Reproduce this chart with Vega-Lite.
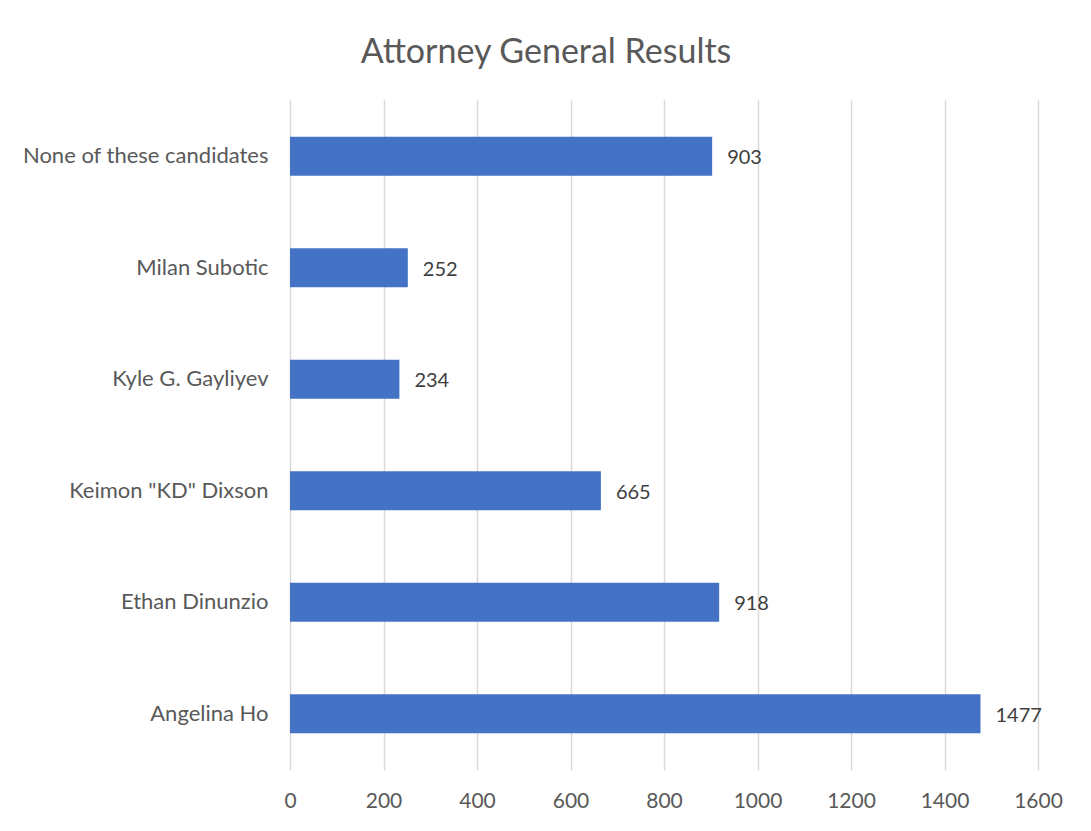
{
  "$schema": "https://vega.github.io/schema/vega-lite/v6.json",
  "autosize": "none",
  "width": 748,
  "height": 670,
  "padding": {"left": 290, "top": 100, "right": 53, "bottom": 61},
  "background": "white",
  "title": {"text": "Attorney General Results", "fontSize": 34, "font": "Lato", "fontWeight": "normal", "color": "#595959", "offset": 30, "anchor": "middle", "dx": -118},
  "config": {"view": {"stroke": null}},
  "data": {"values": [
    {"candidate": "None of these candidates", "votes": 903},
    {"candidate": "Milan Subotic", "votes": 252},
    {"candidate": "Kyle G. Gayliyev", "votes": 234},
    {"candidate": "Keimon \"KD\" Dixson", "votes": 665},
    {"candidate": "Ethan Dinunzio", "votes": 918},
    {"candidate": "Angelina Ho", "votes": 1477}
  ]},
  "encoding": {
    "y": {"field": "candidate", "type": "nominal", "sort": null,
      "scale": {"paddingInner": 0.65, "paddingOuter": 0.33},
      "axis": {"title": null, "domain": false, "ticks": false, "labelFont": "Lato", "labelFontSize": 22, "labelColor": "#595959", "labelPadding": 22, "labelLimit": 400}},
    "x": {"field": "votes", "type": "quantitative",
      "scale": {"domain": [0, 1600], "nice": false},
      "axis": {"title": null, "values": [0,200,400,600,800,1000,1200,1400,1600], "format": "d", "labelFlush": false, "domain": false, "ticks": false, "grid": true, "gridColor": "#d9d9d9", "gridWidth": 1.5, "labelFont": "Lato", "labelFontSize": 21, "labelColor": "#595959", "labelPadding": 20}}
  },
  "layer": [
    {"mark": {"type": "bar", "color": "#4472C4"}},
    {"mark": {"type": "text", "align": "left", "dx": 15, "dy": 2, "font": "Lato", "fontSize": 20, "color": "#404040"},
     "encoding": {"text": {"field": "votes", "type": "quantitative", "format": "d"}}}
  ]
}
